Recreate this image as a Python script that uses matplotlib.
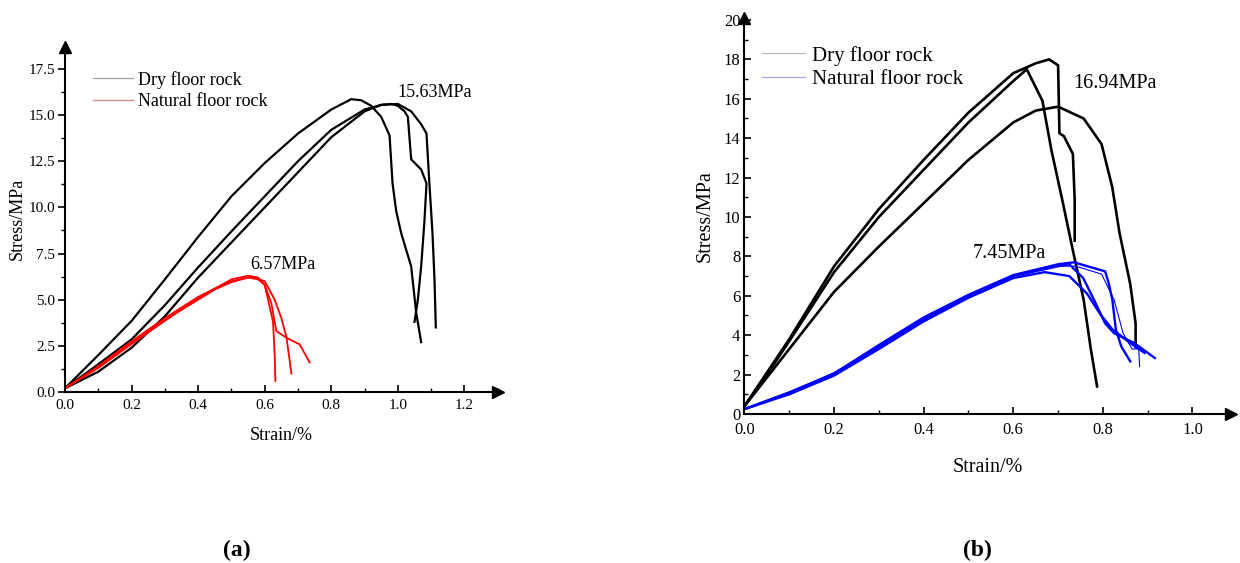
import numpy as np
import matplotlib.pyplot as plt
from matplotlib.lines import Line2D
from matplotlib.ticker import MultipleLocator

plt.rcParams['font.family'] = ['Liberation Serif', 'DejaVu Serif']

# ---- panel (a): strain [%] / stress [MPa] ----
a_dry1_x = [0, 0.1, 0.2, 0.3, 0.4, 0.5, 0.6, 0.7, 0.8, 0.86, 0.89, 0.92, 0.95, 0.975, 0.984, 0.995, 1.01, 1.04, 1.055, 1.07]
a_dry1_y = [0.2, 2.0, 3.85, 6.1, 8.4, 10.6, 12.4, 14.0, 15.3, 15.86, 15.8, 15.5, 14.9, 13.9, 11.3, 9.8, 8.6, 6.8, 4.3, 2.7]
a_dry2_x = [0, 0.1, 0.2, 0.3, 0.4, 0.5, 0.6, 0.7, 0.8, 0.9, 0.95, 0.98, 1.0, 1.02, 1.03, 1.04, 1.07, 1.086, 1.08, 1.07, 1.06, 1.05]
a_dry2_y = [0.2, 1.5, 2.85, 4.7, 6.75, 8.7, 10.6, 12.5, 14.2, 15.3, 15.55, 15.6, 15.5, 15.2, 14.9, 12.6, 12.05, 11.3, 9.3, 6.8, 5.0, 3.8]
a_dry3_x = [0, 0.1, 0.2, 0.3, 0.4, 0.5, 0.6, 0.7, 0.8, 0.9, 0.95, 1.0, 1.04, 1.07, 1.086, 1.094, 1.104, 1.11, 1.114]
a_dry3_y = [0.2, 1.1, 2.4, 4.1, 6.2, 8.1, 10.0, 11.9, 13.8, 15.2, 15.55, 15.6, 15.2, 14.5, 14.0, 11.5, 8.6, 6.1, 3.5]

a_nat1_x = [0, 0.1, 0.2, 0.3, 0.4, 0.45, 0.5, 0.55, 0.58, 0.6, 0.61, 0.625, 0.63, 0.632]
a_nat1_y = [0.2, 1.4, 2.75, 4.0, 5.15, 5.6, 6.0, 6.2, 6.1, 5.8, 5.0, 3.8, 2.0, 0.6]
a_nat2_x = [0, 0.1, 0.2, 0.3, 0.4, 0.45, 0.5, 0.56, 0.6, 0.63, 0.65, 0.665, 0.675, 0.68]
a_nat2_y = [0.2, 1.35, 2.65, 3.9, 5.0, 5.55, 5.95, 6.25, 6.0, 5.0, 4.0, 3.0, 1.7, 1.0]
a_nat3_x = [0, 0.1, 0.2, 0.3, 0.4, 0.5, 0.55, 0.58, 0.6, 0.62, 0.635, 0.665, 0.705, 0.735]
a_nat3_y = [0.2, 1.3, 2.6, 3.85, 5.1, 6.1, 6.3, 6.2, 5.8, 4.8, 3.3, 2.94, 2.58, 1.6]

# ---- panel (b) ----
b_dry1_x = [0, 0.05, 0.1, 0.2, 0.3, 0.4, 0.5, 0.6, 0.65, 0.68, 0.7, 0.703, 0.713, 0.733, 0.737, 0.737]
b_dry1_y = [0.4, 2.1, 3.8, 7.5, 10.4, 12.9, 15.3, 17.3, 17.8, 18.0, 17.7, 14.25, 14.1, 13.2, 10.9, 8.8]
b_dry2_x = [0, 0.05, 0.1, 0.2, 0.3, 0.4, 0.5, 0.6, 0.63, 0.665, 0.685, 0.709, 0.733, 0.757, 0.773, 0.787]
b_dry2_y = [0.4, 2.0, 3.7, 7.2, 10.0, 12.4, 14.8, 16.9, 17.5, 15.9, 13.4, 10.9, 8.3, 5.8, 3.3, 1.4]
b_dry3_x = [0, 0.1, 0.2, 0.3, 0.4, 0.5, 0.6, 0.65, 0.7, 0.757, 0.797, 0.821, 0.837, 0.861, 0.873, 0.873]
b_dry3_y = [0.4, 3.3, 6.2, 8.5, 10.7, 12.9, 14.8, 15.4, 15.6, 15.0, 13.7, 11.5, 9.2, 6.6, 4.6, 3.4]

b_nat1_x = [0, 0.1, 0.2, 0.3, 0.4, 0.5, 0.6, 0.7, 0.735, 0.805, 0.813, 0.821, 0.829, 0.841, 0.861]
b_nat1_y = [0.25, 1.1, 2.05, 3.5, 4.9, 6.05, 7.05, 7.6, 7.7, 7.24, 6.64, 5.8, 4.28, 3.43, 2.67]
b_nat2_x = [0, 0.1, 0.2, 0.3, 0.4, 0.5, 0.6, 0.7, 0.725, 0.756, 0.78, 0.805, 0.825, 0.87, 0.916]
b_nat2_y = [0.25, 1.05, 2.0, 3.4, 4.8, 6.0, 7.0, 7.5, 7.6, 6.9, 5.8, 4.6, 4.1, 3.6, 2.84]
b_nat3_x = [0, 0.1, 0.2, 0.3, 0.4, 0.5, 0.6, 0.67, 0.725, 0.765, 0.793, 0.821, 0.861, 0.893]
b_nat3_y = [0.25, 1.0, 1.95, 3.3, 4.7, 5.9, 6.9, 7.2, 7.0, 6.1, 5.1, 4.3, 3.6, 3.1]
b_nat4_x = [0, 0.1, 0.2, 0.3, 0.4, 0.5, 0.6, 0.7, 0.74, 0.797, 0.825, 0.845, 0.865, 0.88, 0.882]
b_nat4_y = [0.25, 1.1, 2.1, 3.45, 4.85, 6.0, 7.0, 7.5, 7.5, 7.1, 5.8, 4.1, 3.3, 3.3, 2.4]

fig = plt.figure(figsize=(12.4, 5.63), dpi=100)

# panel a
ax1 = fig.add_axes([0.0524, 0.3037, 0.349, 0.6133])
for x, y in [(a_dry1_x, a_dry1_y), (a_dry2_x, a_dry2_y), (a_dry3_x, a_dry3_y)]:
    ax1.plot(x, y, color='black', lw=1.6)
for x, y in [(a_nat1_x, a_nat1_y), (a_nat2_x, a_nat2_y), (a_nat3_x, a_nat3_y)]:
    ax1.plot(x, y, color='#ff0000', lw=1.3)
ax1.set_xlim(0, 1.3)
ax1.set_ylim(0, 18.7)
ax1.xaxis.set_minor_locator(MultipleLocator(0.1))
ax1.yaxis.set_minor_locator(MultipleLocator(1.25))
ax1.set_xticks([0, 0.2, 0.4, 0.6, 0.8, 1.0, 1.2])
ax1.set_yticks([0, 2.5, 5, 7.5, 10, 12.5, 15, 17.5])
ax1.set_xticklabels(['0.0', '0.2', '0.4', '0.6', '0.8', '1.0', '1.2'])
ax1.set_yticklabels(['0.0', '2.5', '5.0', '7.5', '10.0', '12.5', '15.0', '17.5'])
ax1.tick_params(axis='x', which='both', direction='in', labelsize=11, pad=5)
ax1.tick_params(axis='y', which='both', direction='out', labelsize=11, pad=2)
ax1.set_xlabel('Strain/%', fontsize=13)
ax1.set_ylabel('Stress/MPa', fontsize=13)
ax1.xaxis.set_label_coords(0.5, -0.10)
ax1.yaxis.set_label_coords(-0.09, 0.5)
ax1.text(0.557, 6.9, '6.57MPa', fontsize=13, va='center')
ax1.text(1.0, 16.2, '15.63MPa', fontsize=13, va='center')
h1 = [Line2D([], [], color='#a0a0a0', lw=0.9), Line2D([], [], color='#d88888', lw=0.9)]
ax1.legend(h1, ['Dry floor rock', 'Natural floor rock'], loc='upper left',
           bbox_to_anchor=(0.075, 0.874), bbox_transform=fig.transFigure,
           frameon=False, fontsize=13, borderpad=0, borderaxespad=0,
           handlelength=2.2, handletextpad=0.3, labelspacing=0.25)

# panel b
ax2 = fig.add_axes([0.6004, 0.2647, 0.392, 0.7033])
for x, y in [(b_dry1_x, b_dry1_y), (b_dry2_x, b_dry2_y), (b_dry3_x, b_dry3_y)]:
    ax2.plot(x, y, color='black', lw=1.9)
for x, y in [(b_nat1_x, b_nat1_y), (b_nat2_x, b_nat2_y), (b_nat3_x, b_nat3_y)]:
    ax2.plot(x, y, color='#0000ff', lw=1.7)
ax2.plot(b_nat4_x, b_nat4_y, color='#0000ff', lw=0.8)
ax2.set_xlim(0, 1.085)
ax2.set_ylim(0, 20.1)
ax2.set_xticks([0, 0.2, 0.4, 0.6, 0.8, 1.0])
ax2.set_xticklabels(['0.0', '0.2', '0.4', '0.6', '0.8', '1.0'])
ax2.xaxis.set_minor_locator(MultipleLocator(0.1))
ax2.set_yticks(range(0, 21, 2))
ax2.yaxis.set_minor_locator(MultipleLocator(1))
ax2.tick_params(axis='both', which='both', direction='in', labelsize=12)
ax2.tick_params(axis='x', pad=6)
ax2.tick_params(axis='y', pad=3)
ax2.set_xlabel('Strain/%', fontsize=14.5)
ax2.set_ylabel('Stress/MPa', fontsize=14.5)
ax2.xaxis.set_label_coords(0.5, -0.11)
ax2.yaxis.set_label_coords(-0.061, 0.5)
ax2.text(0.51, 8.17, '7.45MPa', fontsize=14.5, va='center')
ax2.text(0.733, 16.8, '16.94MPa', fontsize=14.5, va='center')
h2 = [Line2D([], [], color='#b8b8c0', lw=0.9), Line2D([], [], color='#a8a8e0', lw=0.9)]
ax2.legend(h2, ['Dry floor rock', 'Natural floor rock'], loc='upper left',
           bbox_to_anchor=(0.6145, 0.919), bbox_transform=fig.transFigure,
           frameon=False, fontsize=15, borderpad=0, borderaxespad=0,
           handlelength=2.07, handletextpad=0.33, labelspacing=0.2)

for ax in (ax1, ax2):
    ax.spines['top'].set_visible(False)
    ax.spines['right'].set_visible(False)
    ax.spines['left'].set_linewidth(1.5)
    ax.spines['bottom'].set_linewidth(1.5)
    ax.tick_params(which='major', length=5, width=1.2)
    ax.tick_params(which='minor', length=3, width=1.0)
    ax.plot(1, 0, '>k', ms=8, transform=ax.transAxes, clip_on=False)
    ax.plot(0, 1, '^k', ms=8, transform=ax.transAxes, clip_on=False)

fig.text(0.191, 0.023, '(a)', fontsize=17, fontweight='bold', ha='center', va='center')
fig.text(0.788, 0.023, '(b)', fontsize=17, fontweight='bold', ha='center', va='center')

fig.savefig('out.png', dpi=100)
